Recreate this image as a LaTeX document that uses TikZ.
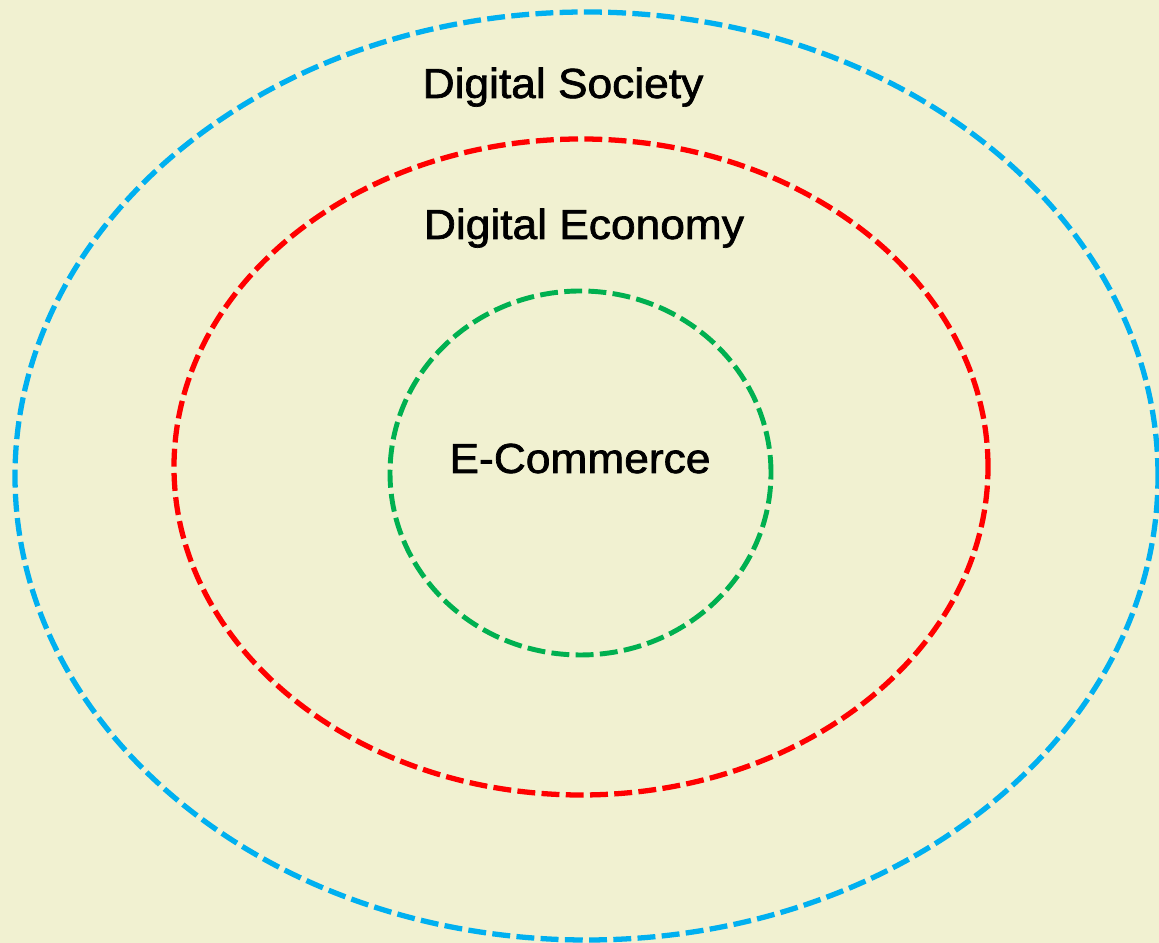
\documentclass[tikz,border=0pt]{standalone}
\usepackage{fontspec}
\setmainfont{Liberation Sans}[FakeStretch=1.055,FakeBold=1.6]
\usepackage{xcolor}
\usetikzlibrary{shapes.geometric,backgrounds}
\definecolor{Cream}{HTML}{F1F1D1}
\definecolor{Sky}{HTML}{00B0F0}
\definecolor{Scarlet}{HTML}{FF0000}
\definecolor{Leaf}{HTML}{00B050}

\begin{document}
\begin{tikzpicture}[font=\fontsize{23.9}{28}\selectfont,
    ring/.style={ellipse,draw,inner sep=0pt,line width=3pt,
      dash pattern=on 10.2pt off 3.6pt},
    lbl/.style={anchor=base,inner sep=0pt,text=black}]
  \useasboundingbox (0,0) rectangle (23.18,18.86);
  \fill[Cream] (0,0) rectangle (23.18,18.86);
  % nested circles
  \node[ring,draw=Sky,minimum width=22.86cm,minimum height=18.56cm] (society) at (11.73,9.34) {};
  \node[ring,draw=Scarlet,minimum width=16.28cm,minimum height=13.12cm] (economy) at (11.62,9.52) {};
  \node[ring,draw=Leaf,line width=2.8pt,minimum width=7.62cm,minimum height=7.28cm] (ecom) at (11.61,9.40) {};
  % labels
  \node[lbl] (societyLbl) at (11.26,16.90) {Digital Society};
  \node[lbl] (economyLbl) at (11.68,14.08) {Digital Economy};
  \node[lbl] (ecomLbl) at (11.60,9.40) {E-Commerce};
\end{tikzpicture}
\end{document}
